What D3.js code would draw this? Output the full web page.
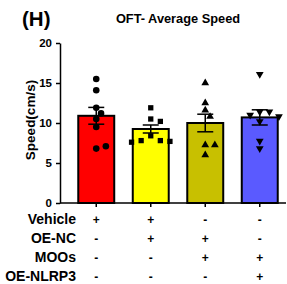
<!DOCTYPE html>
<html>
<head>
<meta charset="utf-8">
<script src="https://cdn.jsdelivr.net/npm/d3@7"></script>
<style>
  body { margin: 0; background: #fff; }
  svg text { font-family: Arial, "Liberation Sans", sans-serif; font-weight: bold; }
</style>
</head>
<body>
<svg id="chart" width="287" height="284"></svg>
<script>
// groups and values
const groups = ["Vehicle", "OE-NC", "OE-NC+MOOs", "OE-NLRP3+MOOs"];
const means = [10.9, 9.25, 10.0, 10.7];
const sems = [1.05, 0.5, 1.1, 0.95];
const pointsRed = [15.5, 14.1, 11.9, 11.2, 10.5, 9.5, 6.8, 7.1];
const pointsYellow = [11.9, 10.5, 10.2, 8.4, 7.8, 7.8, 7.7, 7.6];
const pointsOlive = [15.0, 12.5, 11.6, 10.8, 7.25, 7.25, 6.0];
const pointsBlue = [16.1, 11.4, 11.4, 11.0, 10.8, 10.2, 7.75, 6.8];
const yTicks = [0, 5, 10, 15, 20];
const rowLabels = ["Vehicle", "OE-NC", "MOOs", "OE-NLRP3"];
const rowSigns = [
  ["+", "+", "-", "-"],
  ["-", "+", "+", "-"],
  ["-", "-", "+", "+"],
  ["-", "-", "-", "+"]
];

const colors = ["#ff0000", "#ffff00", "#c8c000", "#5a5aff"];
const shapes = [d3.symbolCircle, d3.symbolSquare, d3.symbolTriangle, d3.symbolTriangle];
const allPoints = [pointsRed, pointsYellow, pointsOlive, pointsBlue];

const svg = d3.select("#chart");

const y = d3.scaleLinear().domain([0, 20]).range([203, 43]);
const x = d3.scaleBand().domain(groups).range([69, 287])
  .paddingInner(0.34).paddingOuter(0.17);

// panel letter and title
svg.append("text").attr("x", 22).attr("y", 26)
  .attr("font-size", 20.5).text("(H)");
svg.append("text").attr("x", 178).attr("y", 23)
  .attr("text-anchor", "middle").attr("font-size", 12.8)
  .text("OFT- Average Speed");

// y axis
const yAxis = svg.append("g")
  .attr("transform", "translate(60,0)")
  .call(d3.axisLeft(y).tickValues(yTicks).tickSize(4).tickSizeOuter(0));
yAxis.select(".domain").attr("stroke-width", 1.5);
yAxis.selectAll(".tick line").attr("stroke-width", 1.5);
yAxis.selectAll(".tick text").attr("font-size", 11.5).attr("x", -8)
  .attr("font-family", "Arial, 'Liberation Sans', sans-serif");

svg.append("text")
  .attr("transform", "translate(35,120) rotate(-90)")
  .attr("text-anchor", "middle").attr("font-size", 13.5)
  .text("Speed(cm/s)");

// x axis line and ticks
svg.append("line").attr("x1", 60).attr("x2", 286)
  .attr("y1", y(0)).attr("y2", y(0))
  .attr("stroke", "#000").attr("stroke-width", 1.5);

// bars
svg.selectAll("rect.bar").data(groups).join("rect")
  .attr("class", "bar")
  .attr("x", d => x(d))
  .attr("width", x.bandwidth())
  .attr("y", (d, i) => y(means[i]))
  .attr("height", (d, i) => y(0) - y(means[i]))
  .attr("fill", (d, i) => colors[i])
  .attr("stroke", "#000").attr("stroke-width", 2);

svg.selectAll("line.xtick").data(groups).join("line")
  .attr("class", "xtick")
  .attr("x1", d => x(d) + x.bandwidth() / 2)
  .attr("x2", d => x(d) + x.bandwidth() / 2)
  .attr("y1", y(0)).attr("y2", y(0) + 4)
  .attr("stroke", "#000").attr("stroke-width", 1.5);

// error bars (mean +/- SEM)
const err = svg.selectAll("g.err").data(groups).join("g").attr("class", "err");
err.append("line")
  .attr("x1", d => x(d) + x.bandwidth() / 2)
  .attr("x2", d => x(d) + x.bandwidth() / 2)
  .attr("y1", (d, i) => y(means[i] - sems[i]))
  .attr("y2", (d, i) => y(means[i] + sems[i]));
[-1, 1].forEach(s => {
  err.append("line")
    .attr("x1", d => x(d) + x.bandwidth() / 2 - 8)
    .attr("x2", d => x(d) + x.bandwidth() / 2 + 8)
    .attr("y1", (d, i) => y(means[i] + s * sems[i]))
    .attr("y2", (d, i) => y(means[i] + s * sems[i]));
});
err.selectAll("line").attr("stroke", "#000").attr("stroke-width", 1.5);

// scatter points, simple swarm to avoid overlap
const r = 3.2, step = 4.8;
allPoints.forEach((vals, gi) => {
  const cx = x(groups[gi]) + x.bandwidth() / 2;
  const placed = [];
  vals.forEach(v => {
    const py = y(v);
    let k = 0, px;
    while (true) {
      const off = k === 0 ? 0 : (k % 2 ? 1 : -1) * Math.ceil(k / 2) * step;
      px = cx + off;
      const hit = placed.some(p => Math.hypot(p[0] - px, p[1] - py) < 2 * r + 0.5);
      if (!hit) break;
      k++;
    }
    placed.push([px, py]);
  });
  const sym = d3.symbol().type(shapes[gi]).size(gi === 0 ? 34 : gi === 1 ? 28 : 26);
  svg.append("g").selectAll("path").data(placed).join("path")
    .attr("d", sym)
    .attr("transform", p => `translate(${p[0]},${p[1]})` + (gi === 3 ? " rotate(180)" : ""))
    .attr("fill", "#000");
});

// condition table under the axis
rowLabels.forEach((lab, ri) => {
  const ty = 223.5 + ri * 19.3;
  svg.append("text").attr("x", 76).attr("y", ty)
    .attr("text-anchor", "end").attr("font-size", 14).text(lab);
  groups.forEach((g, gi) => {
    svg.append("text")
      .attr("x", x(g) + x.bandwidth() / 2)
      .attr("y", ty)
      .attr("text-anchor", "middle").attr("font-size", 12)
      .text(rowSigns[ri][gi]);
  });
});
</script>
</body>
</html>
